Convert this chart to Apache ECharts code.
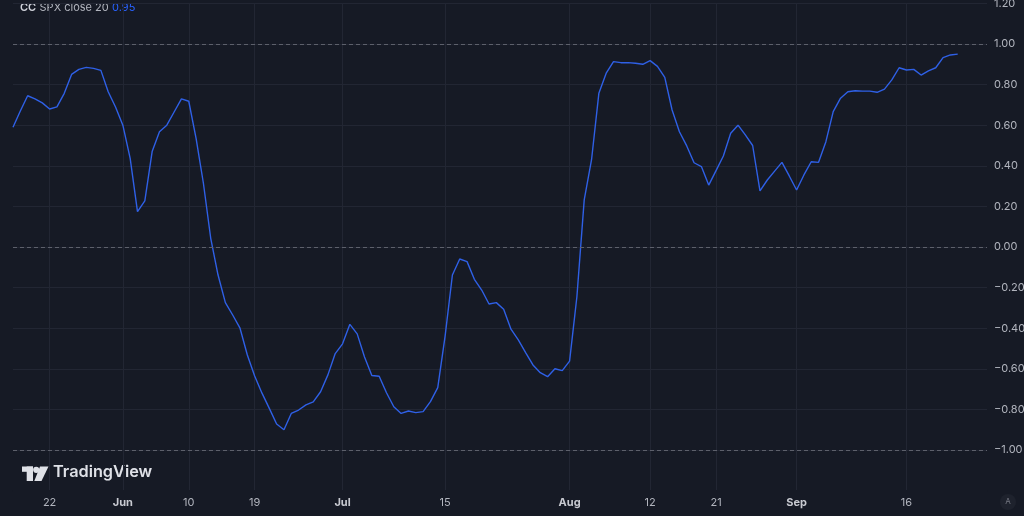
<!DOCTYPE html>
<html>
<head>
<meta charset="utf-8">
<script src="https://cdn.jsdelivr.net/npm/echarts@6/dist/echarts.min.js"></script>
<style>
html,body{margin:0;padding:0;background:#161a25;}
#chart{width:1024px;height:516px;}
</style>
</head>
<body>
<div id="chart"></div>
<script>
// ---- data ----
const startDate = '2024-05-17';
const dayCount = 134; // axis span (daily), data covers the first 130 days
const ccValues = [
  0.59, 0.67, 0.745, 0.73, 0.71, 0.68, 0.69, 0.757, 0.85, 0.875,
  0.885, 0.88, 0.87, 0.765, 0.69, 0.60, 0.437, 0.174, 0.227, 0.47,
  0.568, 0.60, 0.665, 0.73, 0.718, 0.535, 0.314, 0.043, -0.138, -0.274,
  -0.335, -0.40, -0.532, -0.635, -0.72, -0.795, -0.872, -0.90, -0.82, -0.803,
  -0.778, -0.763, -0.713, -0.63, -0.525, -0.477, -0.381, -0.428, -0.542, -0.633,
  -0.637, -0.718, -0.787, -0.82, -0.808, -0.816, -0.811, -0.762, -0.693, -0.44,
  -0.138, -0.059, -0.072, -0.159, -0.212, -0.281, -0.274, -0.307, -0.405, -0.458,
  -0.52, -0.581, -0.619, -0.639, -0.60, -0.609, -0.562, -0.245, 0.232, 0.43,
  0.757, 0.856, 0.913, 0.908, 0.908, 0.905, 0.90, 0.918, 0.89, 0.836,
  0.675, 0.568, 0.498, 0.415, 0.396, 0.305, 0.376, 0.448, 0.56, 0.60,
  0.552, 0.50, 0.277, 0.33, 0.374, 0.417, 0.35, 0.281, 0.355, 0.42,
  0.417, 0.519, 0.667, 0.733, 0.765, 0.77, 0.768, 0.768, 0.762, 0.778,
  0.823, 0.883, 0.872, 0.875, 0.847, 0.868, 0.883, 0.933, 0.946, 0.95
];
const xTickLabels = {
  '2024-05-22': '22', '2024-06-01': 'Jun', '2024-06-10': '10', '2024-06-19': '19',
  '2024-07-01': 'Jul', '2024-07-15': '15', '2024-08-01': 'Aug', '2024-08-12': '12',
  '2024-08-21': '21', '2024-09-01': 'Sep', '2024-09-16': '16'
};
const monthLabels = ['Jun', 'Jul', 'Aug', 'Sep'];
const refLevels = [1, 0, -1];
const legendName = 'CC';
const legendDesc = 'SPX close 20';
const lastValueText = '0.95';

// ---- build categories ----
const categories = [];
const t0 = new Date(startDate + 'T00:00:00Z').getTime();
for (let i = 0; i < dayCount; i++) {
  categories.push(new Date(t0 + i * 86400000).toISOString().slice(0, 10));
}

const BG = '#161a25';
const GRID = '#222633';
const TXT = '#b2b5be';
const BLUE = '#2f60e6';
const FONT = 'Inter, "Noto Sans", sans-serif';

const chart = echarts.init(document.getElementById('chart'), null, {renderer: 'canvas'});

const fmtY = v => {
  const r = Math.round(v * 100) / 100;
  if (r < -1.1) return '';
  if (r === 0) return '0.00';
  return (r < 0 ? '\u2212' : '') + Math.abs(r).toFixed(2);
};

chart.setOption({
  backgroundColor: BG,
  animation: false,
  grid: {left: 13, right: 37, top: 3.4, bottom: 25.4, containLabel: false, outerBoundsMode: 'none'},
  xAxis: {
    type: 'category',
    data: categories,
    boundaryGap: false,
    axisLine: {show: true, onZero: false, lineStyle: {color: BG, width: 2}},
    axisTick: {show: false},
    axisLabel: {
      interval: (i, v) => xTickLabels[v] !== undefined,
      formatter: v => {
        const l = xTickLabels[v];
        if (l === undefined) return '';
        return monthLabels.includes(l) ? '{m|' + l + '}' : l;
      },
      color: TXT,
      fontFamily: FONT,
      fontSize: 11,
      margin: 7,
      rich: {m: {fontWeight: 'bold', color: '#c8cad1', fontFamily: FONT, fontSize: 11}}
    },
    splitLine: {
      show: true,
      interval: (i, v) => xTickLabels[v] !== undefined,
      lineStyle: {color: GRID, width: 1}
    }
  },
  yAxis: {
    type: 'value',
    position: 'right',
    min: -1.2,
    max: 1.2,
    interval: 0.2,
    axisLine: {show: false},
    axisTick: {show: false},
    axisLabel: {
      formatter: fmtY,
      color: TXT,
      fontFamily: FONT,
      fontSize: 11,
      margin: 7,
      align: 'left'
    },
    splitLine: {show: true, lineStyle: {color: GRID, width: 1}}
  },
  series: [{
    type: 'line',
    data: ccValues,
    showSymbol: false,
    symbol: 'none',
    lineStyle: {color: BLUE, width: 1.4},
    z: 3,
    markLine: {
      silent: true,
      symbol: 'none',
      label: {show: false},
      lineStyle: {color: '#5d606b', type: [4, 3], width: 1},
      data: refLevels.map(v => ({yAxis: v}))
    }
  }],
  graphic: [
    {
      type: 'text', left: 20, top: 2,
      style: {
        text: '{a|' + legendName + '} {b|' + legendDesc + '} {c|' + lastValueText + '}',
        rich: {
          a: {fontFamily: FONT, fontSize: 11, fontWeight: 600, fill: '#d1d4dc'},
          b: {fontFamily: FONT, fontSize: 11, fill: TXT},
          c: {fontFamily: FONT, fontSize: 11, fill: '#2962ff'}
        }
      }
    },
    {
      type: 'group', left: 22, top: 466.5,
      children: [
        {type: 'rect', shape: {x: 0, y: 0, width: 11, height: 5.3}, style: {fill: '#dfe1e7'}},
        {type: 'rect', shape: {x: 4.7, y: 0, width: 6.3, height: 14.5}, style: {fill: '#dfe1e7'}},
        {type: 'circle', shape: {cx: 14.2, cy: 3.3, r: 3.1}, style: {fill: '#dfe1e7'}},
        {type: 'polygon', shape: {points: [[18, 0], [26.5, 0], [19.5, 14.5], [12.3, 14.5]]}, style: {fill: '#dfe1e7'}}
      ]
    },
    {
      type: 'text', left: 53, top: 464.5,
      style: {text: 'TradingView', fontFamily: FONT, fontSize: 16.3, fontWeight: 600, fill: '#dfe1e7'}
    },
    {
      type: 'circle', shape: {cx: 1008, cy: 502, r: 8}, style: {fill: '#1e222d'}
    },
    {
      type: 'text', x: 1008, y: 502,
      style: {text: 'A', fontFamily: FONT, fontSize: 8, fill: '#787b86', align: 'center', verticalAlign: 'middle'}
    }
  ]
});
</script>
</body>
</html>
